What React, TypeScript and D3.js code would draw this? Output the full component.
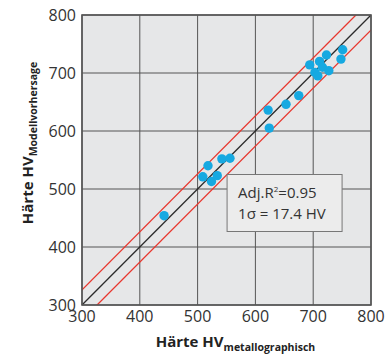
import React, { useRef, useEffect } from "react";
import * as d3 from "d3";

// measured hardness (x) vs model prediction (y)
const hvMeasured = [
  442, 509, 518, 524, 534, 542, 556, 622, 624, 653,
  675, 694, 703, 708, 711, 716, 723, 727, 748, 751,
];
const hvPredicted = [
  454, 521, 540, 513, 523, 552, 553, 636, 605, 646,
  661, 714, 701, 695, 720, 710, 731, 704, 724, 740,
];
const ticks = [300, 400, 500, 600, 700, 800];
const bandOffset = 26;
const statLines = ["Adj.R", "1σ = 17.4 HV"];

export default function App() {
  const svgRef = useRef<SVGSVGElement>(null);

  useEffect(() => {
    if (!svgRef.current) return;
    const svg = d3.select(svgRef.current);
    svg.selectAll("*").remove();

    const width = 385;
    const height = 359;
    const margin = { top: 15, right: 14, bottom: 54, left: 82 };
    const innerWidth = width - margin.left - margin.right;
    const innerHeight = height - margin.top - margin.bottom;
    const font = "'Open Sans', 'DejaVu Sans', sans-serif";

    svg.attr("width", width).attr("height", height);

    const x = d3.scaleLinear().domain([300, 800]).range([0, innerWidth]);
    const y = d3.scaleLinear().domain([300, 800]).range([innerHeight, 0]);

    const g = svg.append("g").attr("transform", `translate(${margin.left},${margin.top})`);

    g.append("defs").append("clipPath").attr("id", "plotclip")
      .append("rect").attr("width", innerWidth).attr("height", innerHeight);

    g.append("rect")
      .attr("width", innerWidth)
      .attr("height", innerHeight)
      .attr("fill", "#e6e7e8");

    // grid
    ticks.forEach((t) => {
      g.append("line")
        .attr("x1", x(t)).attr("x2", x(t))
        .attr("y1", 0).attr("y2", innerHeight)
        .attr("stroke", "#555").attr("stroke-width", 1);
      g.append("line")
        .attr("x1", 0).attr("x2", innerWidth)
        .attr("y1", y(t)).attr("y2", y(t))
        .attr("stroke", "#555").attr("stroke-width", 1);
    });

    const lineGen = d3.line<[number, number]>().x((d) => x(d[0])).y((d) => y(d[1]));
    const lines = g.append("g").attr("clip-path", "url(#plotclip)");
    [
      { off: 0, color: "#2b2b2b" },
      { off: bandOffset, color: "#e8362d" },
      { off: -bandOffset, color: "#e8362d" },
    ].forEach((l) => {
      lines.append("path")
        .datum([[250, 250 + l.off], [850, 850 + l.off]] as [number, number][])
        .attr("fill", "none")
        .attr("stroke", l.color)
        .attr("stroke-width", 1.3)
        .attr("d", lineGen);
    });

    // points
    g.append("g").selectAll("circle")
      .data(hvMeasured.map((m, i) => [m, hvPredicted[i]]))
      .join("circle")
      .attr("cx", (d) => x(d[0]))
      .attr("cy", (d) => y(d[1]))
      .attr("r", 4.7)
      .attr("fill", "#16a9e1");

    g.append("rect")
      .attr("width", innerWidth)
      .attr("height", innerHeight)
      .attr("fill", "none")
      .attr("stroke", "#555")
      .attr("stroke-width", 1.6);

    // tick labels
    ticks.forEach((t) => {
      g.append("text")
        .attr("x", x(t)).attr("y", innerHeight + 17)
        .attr("text-anchor", "middle")
        .style("font-family", font).style("font-size", "16px").style("fill", "#333")
        .text(t);
      g.append("text")
        .attr("x", -6).attr("y", y(t) + 5.5)
        .attr("text-anchor", "end")
        .style("font-family", font).style("font-size", "16px").style("fill", "#333")
        .text(t);
    });

    // stats box
    const box = g.append("g").attr("transform", `translate(${x(551)},${y(525)})`);
    box.append("rect")
      .attr("width", 115).attr("height", 57)
      .attr("fill", "#ececec").attr("stroke", "#777").attr("stroke-width", 1);
    const t1 = box.append("text")
      .attr("x", 11).attr("y", 23)
      .style("font-family", font).style("font-size", "15px").style("fill", "#333");
    t1.append("tspan").text(statLines[0]);
    t1.append("tspan").attr("dy", -6).style("font-size", "8px").text("2");
    t1.append("tspan").attr("dy", 6).text("=0.95");
    box.append("text")
      .attr("x", 11).attr("y", 44)
      .style("font-family", font).style("font-size", "15px").style("fill", "#333")
      .text(statLines[1]);

    // axis titles
    const xt = svg.append("text")
      .attr("x", margin.left + innerWidth / 2 + 9).attr("y", 347)
      .attr("text-anchor", "middle")
      .style("font-family", font).style("font-weight", 700).style("fill", "#222");
    xt.append("tspan").style("font-size", "15px").text("Härte HV");
    xt.append("tspan").attr("dy", 4).style("font-size", "10.5px").text("metallographisch");

    const yt = svg.append("text")
      .attr("transform", `translate(33,${margin.top + innerHeight / 2 - 17}) rotate(-90)`)
      .attr("text-anchor", "middle")
      .style("font-family", font).style("font-weight", 700).style("fill", "#222");
    yt.append("tspan").style("font-size", "15px").text("Härte HV");
    yt.append("tspan").attr("dy", 4).style("font-size", "10.5px").text("Modellvorhersage");
  }, []);

  return <svg ref={svgRef} style={{ position: "absolute", left: 0, top: 0, display: "block" }} />;
}
